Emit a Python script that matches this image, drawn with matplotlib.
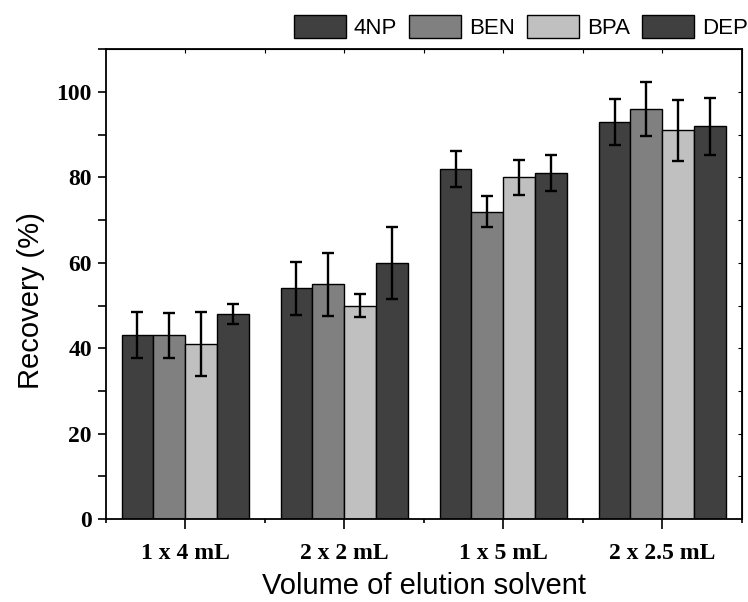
import numpy as np
from matplotlib import pyplot as plt
from matplotlib.ticker import MultipleLocator, FixedLocator

# data
groups = ["1 x 4 mL", "2 x 2 mL", "1 x 5 mL", "2 x 2.5 mL"]
series = ["4NP", "BEN", "BPA", "DEP"]
recovery = {
    "4NP": [43, 54, 82, 93],
    "BEN": [43, 55, 72, 96],
    "BPA": [41, 50, 80, 91],
    "DEP": [48, 60, 81, 92],
}
errors = {
    "4NP": [5.4, 6.2, 4.2, 5.3],
    "BEN": [5.2, 7.4, 3.6, 6.3],
    "BPA": [7.5, 2.7, 4.0, 7.1],
    "DEP": [2.3, 8.5, 4.2, 6.7],
}
colors = ["#404040", "#808080", "#c0c0c0", "#404040"]

fig = plt.figure(figsize=(7.48, 6.02), dpi=100)
ax = fig.add_axes([0.1413, 0.1379, 0.8503, 0.7801])

x = np.arange(len(groups))
width = 0.2

# bars with error bars
for i, name in enumerate(series):
    pos = x + (i - 1.5) * width
    ax.bar(pos, recovery[name], width, color=colors[i], edgecolor="black",
           linewidth=1.0, label=name, zorder=2)
    ax.errorbar(pos, recovery[name], yerr=errors[name], fmt="none",
                ecolor="black", elinewidth=1.7, capsize=4, capthick=1.7, zorder=3)

ax.set_xlim(-0.5, 3.5)
ax.set_ylim(0, 110)

tick_font = dict(family="Liberation Serif", weight="bold", size=17)
ax.set_xticks(x)
ax.set_xticklabels(groups, fontdict=tick_font)
ax.xaxis.set_minor_locator(FixedLocator([-0.5, 0.5, 1.5, 2.5, 3.5]))
ax.set_yticks(np.arange(0, 101, 20))
ax.set_yticklabels([str(v) for v in range(0, 101, 20)], fontdict=tick_font)
ax.yaxis.set_minor_locator(MultipleLocator(10))

ax.tick_params(axis="x", which="major", direction="out", length=7, width=1.2, pad=10)
ax.tick_params(axis="x", which="minor", direction="out", length=3, width=1.2)
ax.tick_params(axis="y", which="both", direction="out", length=6, width=1.2, pad=4)

for s in ax.spines.values():
    s.set_linewidth(1.3)

# inward ticks on top and right
top = ax.secondary_xaxis("top")
top.set_xticks(list(x) + [0.5, 1.5, 2.5])
top.tick_params(direction="in", length=3, labeltop=False)
right = ax.secondary_yaxis("right")
right.set_yticks(np.arange(10, 101, 10))
right.tick_params(direction="in", length=3, labelright=False)

ax.set_xlabel("Volume of elution solvent", family="Liberation Sans", fontsize=21, labelpad=6)
ax.set_ylabel("Recovery (%)", family="Liberation Sans", fontsize=21)
ax.yaxis.set_label_coords(-0.095, 0.466)

fig.legend(loc="upper right", bbox_to_anchor=(1.0, 0.975), ncol=4, frameon=False,
           prop={"family": "Liberation Sans", "size": 16}, borderpad=0,
           borderaxespad=0, handlelength=2.34, handleheight=1.2,
           handletextpad=0.35, columnspacing=0.55)

plt.savefig("out.png", dpi=100)
